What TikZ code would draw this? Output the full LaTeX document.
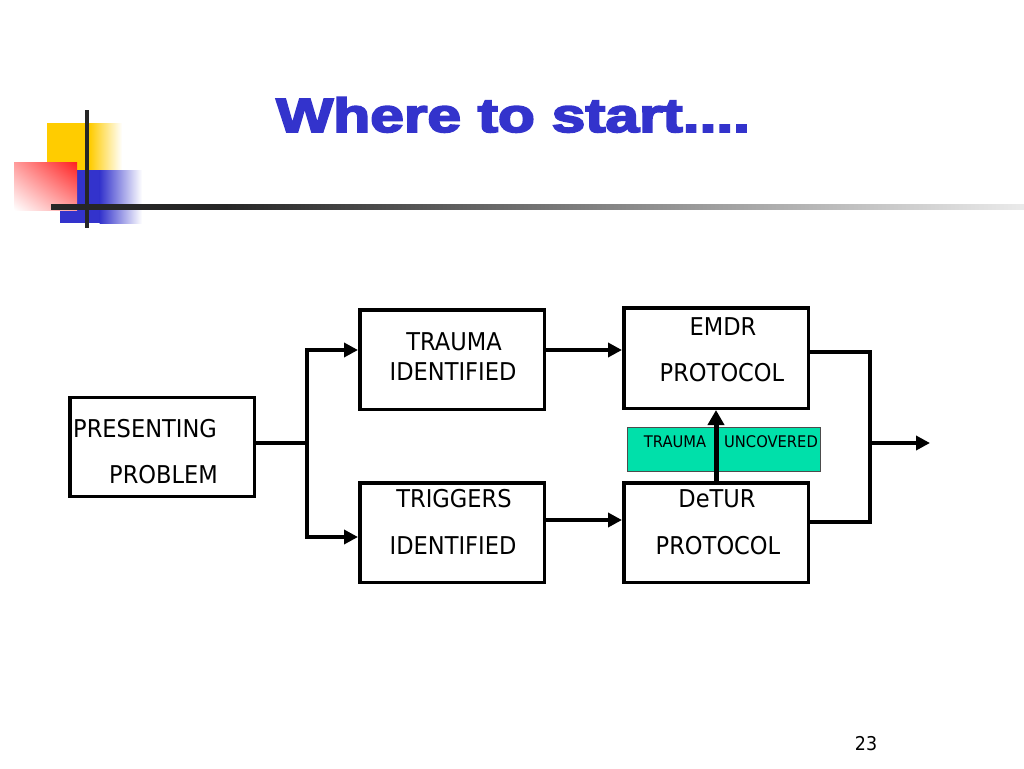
\documentclass[tikz,border=0pt]{standalone}
\usepackage{fontspec}
\setmainfont{DejaVu Sans}[FakeStretch=0.92]
\newfontfamily\titlefont{Liberation Sans}[FakeBold=3.5]
\usetikzlibrary{arrows.meta,shadings}
\definecolor{titleblue}{HTML}{3333CC}
\definecolor{decoyellow}{HTML}{FFCC00}
\definecolor{decoblue}{HTML}{3333CC}
\definecolor{decored}{HTML}{FF2020}
\definecolor{teal1}{HTML}{00E0AA}
\pgfdeclarehorizontalshading{hline}{100bp}{color(0bp)=(black!85); color(34bp)=(black!85); color(75bp)=(black!8); color(100bp)=(black!8)}
\tikzset{
  box/.style={draw=black, line width=3.5pt, fill=white, inner sep=0pt},
  txt/.style={inner sep=0pt, anchor=base, font=\fontsize{24.5}{28}\selectfont},
  small/.style={inner sep=0pt, anchor=base, font=\fontsize{16}{18}\selectfont},
  conn/.style={line width=3.5pt, line join=miter},
  arr/.style={conn, -{Triangle[length=14pt,width=14pt]}},
  bigarr/.style={line width=5pt, -{Triangle[length=15pt,width=16pt]}}
}
\begin{document}
\begin{tikzpicture}[x=1pt,y=-1pt]
\useasboundingbox (0,0) rectangle (1024,768);
\fill[white] (0,0) rectangle (1024,768);
% decoration
\fill[decoyellow] (47,123) rectangle (90,170);
\shade[left color=decoyellow, right color=white] (89.5,123) rectangle (122,170);
\fill[decoblue] (60,170) rectangle (100,223);
\shade[left color=decoblue, right color=white] (99.5,170) rectangle (142,223);
\shade[upper right=decored, upper left=decored!45!white, lower right=decored!45!white, lower left=white] (14,162) rectangle (77,210);
\shade[shading=hline] (51,204.5) rectangle (1024,209.5);
\draw[line width=4pt, black!85] (87,110) -- (87,228);
% title
\node[inner sep=0pt, anchor=base west, text=titleblue] (title) at (276,132)
  {\scalebox{1.26}[1]{\titlefont\bfseries\fontsize{48}{52}\selectfont Where to start....}};
% boxes
\node[box, minimum width=184.5pt, minimum height=99pt] (pp) at (162,447) {};
\node[box, minimum width=184.5pt, minimum height=99.5pt] (ti) at (452,359.5) {};
\node[box, minimum width=184.5pt, minimum height=99.5pt] (tr) at (452,532.5) {};
\node[box, minimum width=184.5pt, minimum height=100.5pt] (em) at (716,358) {};
\node[box, minimum width=184.5pt, minimum height=99.5pt] (de) at (716,532.5) {};
\node[draw=black!70, line width=0.8pt, fill=teal1, minimum width=193pt, minimum height=44pt, inner sep=0pt] (tu) at (723.5,449) {};
% texts
\node[txt, anchor=base west] (ppa) at (73,437) {PRESENTING};
\node[txt, anchor=base west] (ppb) at (109,483) {PROBLEM};
\node[txt] (tia) at (454,350) {TRAUMA};
\node[txt] (tib) at (453,380) {IDENTIFIED};
\node[txt] (tra) at (454,507) {TRIGGERS};
\node[txt] (trb) at (453,554) {IDENTIFIED};
\node[txt] (ema) at (723,335) {EMDR};
\node[txt] (emb) at (722,381) {PROTOCOL};
\node[txt] (dea) at (717,507) {DeTUR};
\node[txt] (deb) at (718,554) {PROTOCOL};
\node[small] (tua) at (675,447) {TRAUMA};
\node[small] (tub) at (771,447) {UNCOVERED};
\node[inner sep=0pt, anchor=base, font=\fontsize{19}{21}\selectfont] (pg) at (866,750) {23};
% connectors
\coordinate (sp) at (307,443);
\coordinate (s1) at (307,350);
\coordinate (s2) at (307,537);
\draw[conn] (pp.east |- sp) -- (sp);
\draw[arr] (s2) -- (s1) -- (s1 -| ti.west);
\draw[arr] (s1) -- (s2) -- (s2 -| tr.west);
\coordinate (m1) at (546,350);
\coordinate (m2) at (546,520);
\draw[arr] (m1 -| ti.east) -- (m1 -| em.west);
\draw[arr] (m2 -| tr.east) -- (m2 -| de.west);
\draw[bigarr] (de.north) -- (em.south);
\coordinate (j1) at (870,352);
\coordinate (j2) at (870,522);
\coordinate (j3) at (870,443);
\coordinate (out) at (930,443);
\draw[conn] (em.east |- j1) -- (j1) -- (j2) -- (de.east |- j2);
\draw[arr] (j3) -- (out);
\end{tikzpicture}
\end{document}
